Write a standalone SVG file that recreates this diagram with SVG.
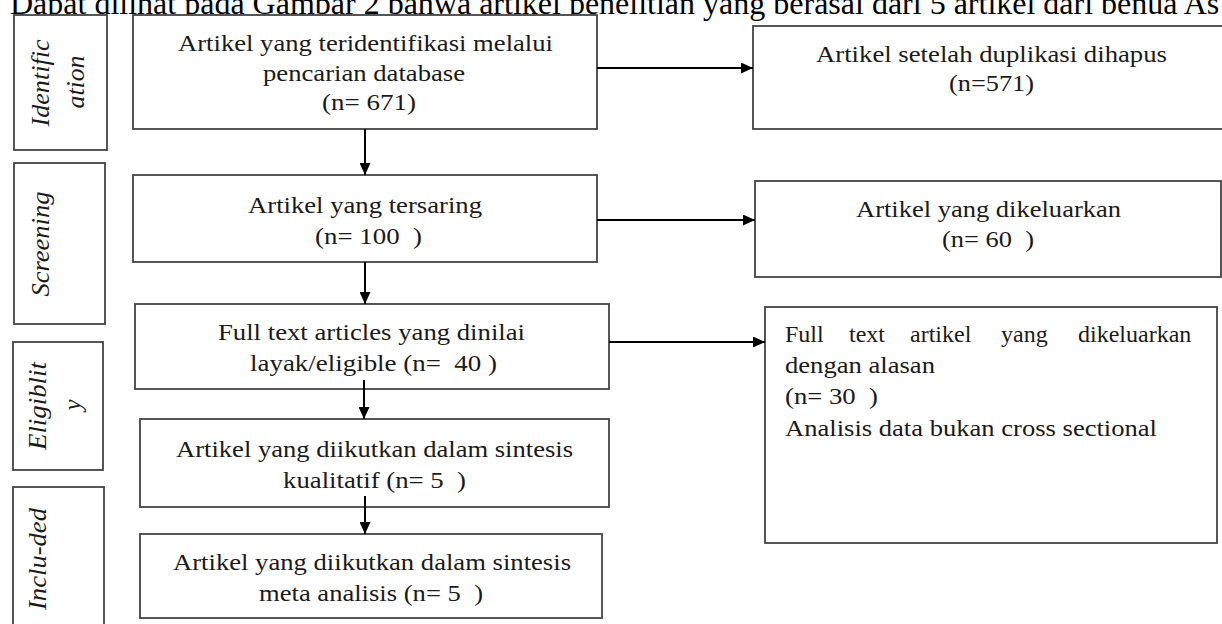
<svg xmlns="http://www.w3.org/2000/svg" width="1222" height="624" viewBox="0 0 1222 624">
<defs>
<marker id="ah" viewBox="0 0 12 11" refX="12" refY="5.5" markerWidth="12" markerHeight="11" orient="auto" markerUnits="userSpaceOnUse">
<path d="M0,0 L12,5.5 L0,11 z" fill="#000"/>
</marker>
<style>
.box{fill:#fff;stroke:#444;stroke-width:1.8}
.t{font-family:"Liberation Serif","Times New Roman",serif;font-size:24px;fill:#1a1a1a}
.c{text-anchor:middle}
.s{font-family:"Liberation Serif","Times New Roman",serif;font-size:25px;font-style:italic;fill:#1a1a1a;text-anchor:middle}
.top{font-family:"Liberation Serif","Times New Roman",serif;font-size:32px;fill:#000}
.ln{stroke:#000;stroke-width:2;fill:none;marker-end:url(#ah)}
</style>
</defs>
<rect width="1222" height="624" fill="#fff"/>
<text class="top" x="10" y="14">Dapat dilihat pada Gambar 2 bahwa artikel penelitian yang berasal dari 5 artikel dari benua As</text>

<g id="stage-identification">
<rect class="box" x="14" y="15" width="93" height="135"/>
<text class="s" transform="translate(49,83) rotate(-90)" textLength="87" lengthAdjust="spacingAndGlyphs">Identific</text>
<text class="s" transform="translate(84,82) rotate(-90)" textLength="53" lengthAdjust="spacingAndGlyphs">ation</text>
</g>
<g id="stage-screening">
<rect class="box" x="14" y="163" width="91" height="161"/>
<text class="s" transform="translate(49,244) rotate(-90)" textLength="105" lengthAdjust="spacingAndGlyphs">Screening</text>
</g>
<g id="stage-eligibility">
<rect class="box" x="13" y="342" width="90" height="128"/>
<text class="s" transform="translate(46,406) rotate(-90)" textLength="88" lengthAdjust="spacingAndGlyphs">Eligiblit</text>
<text class="s" transform="translate(81,405) rotate(-90)">y</text>
</g>
<g id="stage-included">
<rect class="box" x="13" y="487" width="91" height="150"/>
<text class="s" transform="translate(46,559) rotate(-90)" textLength="102" lengthAdjust="spacingAndGlyphs">Inclu-ded</text>
</g>

<g id="box-identified">
<rect class="box" x="133" y="15" width="464" height="114"/>
<text class="t c" x="365.5" y="51" textLength="375" lengthAdjust="spacingAndGlyphs">Artikel yang teridentifikasi melalui</text>
<text class="t c" x="364" y="81" textLength="202" lengthAdjust="spacingAndGlyphs">pencarian database</text>
<text class="t c" x="369" y="110" textLength="94" lengthAdjust="spacingAndGlyphs">(n= 671)</text>
</g>
<g id="box-deduplicated">
<rect class="box" x="753" y="26" width="480" height="103"/>
<text class="t c" x="991.5" y="62" textLength="351" lengthAdjust="spacingAndGlyphs">Artikel setelah duplikasi dihapus</text>
<text class="t c" x="991.5" y="91" textLength="85" lengthAdjust="spacingAndGlyphs">(n=571)</text>
</g>
<g id="box-screened">
<rect class="box" x="133" y="175" width="464" height="87"/>
<text class="t c" x="365" y="213" textLength="234" lengthAdjust="spacingAndGlyphs">Artikel yang tersaring</text>
<text class="t c" x="368.5" y="244" textLength="107" lengthAdjust="spacingAndGlyphs" xml:space="preserve">(n= 100  )</text>
</g>
<g id="box-excluded">
<rect class="box" x="755" y="181" width="466" height="96"/>
<text class="t c" x="988.5" y="217" textLength="265" lengthAdjust="spacingAndGlyphs">Artikel yang dikeluarkan</text>
<text class="t c" x="988" y="247" textLength="92" lengthAdjust="spacingAndGlyphs" xml:space="preserve">(n= 60  )</text>
</g>
<g id="box-eligible">
<rect class="box" x="135" y="304" width="474" height="85"/>
<text class="t c" x="371.5" y="340" textLength="307" lengthAdjust="spacingAndGlyphs">Full text articles yang dinilai</text>
<text class="t c" x="373.5" y="371" textLength="247" lengthAdjust="spacingAndGlyphs" xml:space="preserve">layak/eligible (n=  40 )</text>
</g>
<g id="box-fulltext-excluded">
<rect class="box" x="765" y="307" width="452" height="236"/>
<text class="t" y="342"><tspan x="785">Full</tspan><tspan x="849">text</tspan><tspan x="910">artikel</tspan><tspan x="1001">yang</tspan><tspan x="1078">dikeluarkan</tspan></text>
<text class="t" x="785" y="373" textLength="150" lengthAdjust="spacingAndGlyphs">dengan alasan</text>
<text class="t" x="785" y="404" textLength="93" lengthAdjust="spacingAndGlyphs" xml:space="preserve">(n= 30  )</text>
<text class="t" x="785" y="436" textLength="372" lengthAdjust="spacingAndGlyphs">Analisis data bukan cross sectional</text>
</g>
<g id="box-qualitative">
<rect class="box" x="140" y="419" width="469" height="88"/>
<text class="t c" x="374.5" y="457" textLength="397" lengthAdjust="spacingAndGlyphs">Artikel yang diikutkan dalam sintesis</text>
<text class="t c" x="374.5" y="488" textLength="183" lengthAdjust="spacingAndGlyphs" xml:space="preserve">kualitatif (n= 5  )</text>
</g>
<g id="box-meta">
<rect class="box" x="140" y="534" width="462" height="84"/>
<text class="t c" x="372" y="570" textLength="398" lengthAdjust="spacingAndGlyphs">Artikel yang diikutkan dalam sintesis</text>
<text class="t c" x="371" y="601" textLength="224" lengthAdjust="spacingAndGlyphs" xml:space="preserve">meta analisis (n= 5  )</text>
</g>

<g id="connectors">
<line class="ln" x1="597" y1="68" x2="753" y2="68"/>
<line class="ln" x1="365" y1="129" x2="365" y2="175"/>
<line class="ln" x1="597" y1="220" x2="755" y2="220"/>
<line class="ln" x1="365" y1="262" x2="365" y2="304"/>
<line class="ln" x1="609" y1="342" x2="765" y2="342"/>
<line class="ln" x1="364" y1="380" x2="364" y2="419"/>
<line class="ln" x1="365" y1="496" x2="365" y2="534"/>
</g>
</svg>
